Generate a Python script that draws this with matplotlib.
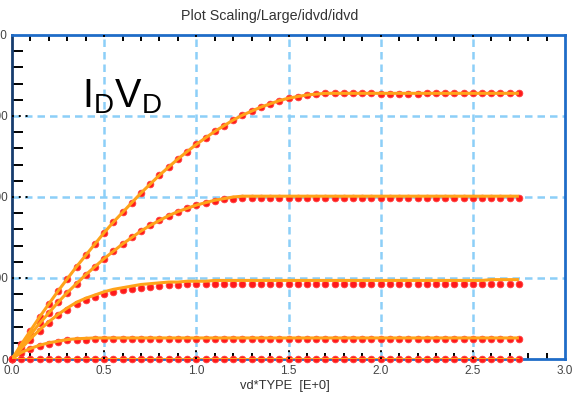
import matplotlib
matplotlib.use("Agg")
import matplotlib.pyplot as plt
import numpy as np

plt.rcParams['font.family'] = ['Liberation Sans', 'DejaVu Sans']

# drain voltage sweep (vd*TYPE)
vd = [0.00, 0.05, 0.10, 0.15, 0.20, 0.25, 0.30, 0.35, 0.40, 0.45,
      0.50, 0.55, 0.60, 0.65, 0.70, 0.75, 0.80, 0.85, 0.90, 0.95,
      1.00, 1.05, 1.10, 1.15, 1.20, 1.25, 1.30, 1.35, 1.40, 1.45,
      1.50, 1.55, 1.60, 1.65, 1.70, 1.75, 1.80, 1.85, 1.90, 1.95,
      2.00, 2.05, 2.10, 2.15, 2.20, 2.25, 2.30, 2.35, 2.40, 2.45,
      2.50, 2.55, 2.60, 2.65, 2.70, 2.75]

# measured drain current, one list per gate bias
meas_1 = [0, 18, 35, 52, 68, 84, 99, 114, 128, 142,
          156, 169, 181, 193, 205, 216, 227, 237, 247, 256,
          265, 273, 281, 288, 295, 301, 306, 311, 315, 319,
          322, 324, 326, 327, 328, 328, 328, 328, 328, 328,
          327, 327, 327, 327, 327, 328, 328, 328, 328, 328,
          328, 328, 328, 328, 328, 328]
meas_2 = [0, 15, 30, 44, 57, 70, 82, 93, 104, 114,
          124, 133, 142, 150, 158, 165, 171, 177, 182, 186,
          190, 193, 195, 197, 198, 199, 199, 199, 199, 199,
          199, 199, 199, 199, 199, 199, 199, 199, 199, 199,
          199, 199, 199, 199, 199, 199, 199, 199, 199, 199,
          199, 199, 199, 199, 199, 199]
meas_3 = [0, 12, 24, 35, 45, 54, 61, 68, 73, 77,
          80, 83, 85, 87, 88, 89, 90, 91, 91, 92,
          92, 92, 93, 93, 93, 93, 93, 93, 93, 93,
          93, 93, 93, 93, 93, 93, 93, 93, 93, 93,
          92, 92, 92, 92, 92, 93, 93, 93, 93, 93,
          93, 93, 93, 93, 93, 93]
meas_4 = [0, 7, 12, 16, 19, 21, 23, 24, 24, 25,
          25, 25, 25, 25, 25, 25, 25, 25, 25, 25,
          25, 25, 25, 25, 25, 25, 25, 25, 25, 25,
          25, 25, 25, 25, 25, 25, 25, 25, 25, 25,
          25, 25, 25, 25, 25, 25, 25, 25, 25, 25,
          25, 25, 25, 25, 25, 25]
meas_5 = [0, 0, 0, 0, 0, 0, 0, 0, 0, 0,
          0, 0, 0, 0, 0, 0, 0, 0, 0, 0,
          0, 0, 0, 0, 0, 0, 0, 0, 0, 0,
          0, 0, 0, 0, 0, 0, 0, 0, 0, 0,
          0, 0, 0, 0, 0, 0, 0, 0, 0, 0,
          0, 0, 0, 0, 0, 0]

# simulated drain current
sim_1 = [0, 18, 35, 52, 68, 84, 99, 114, 128, 142,
         156, 169, 181, 193, 205, 216, 227, 237, 247, 256,
         265, 273, 281, 288, 295, 301, 306, 311, 315, 319,
         322, 324, 326, 327, 328, 328, 328, 328, 328, 328,
         328, 328, 328, 328, 328, 328, 328, 328, 328, 328,
         328, 328, 328, 328, 328, 328]
sim_2 = [0, 15, 30, 44, 57, 70, 82, 93, 104, 114,
         124, 133, 142, 150, 158, 165, 171, 177, 182, 186,
         190, 193, 196, 198, 200, 201, 201, 201, 201, 201,
         201, 201, 201, 201, 201, 201, 201, 201, 201, 201,
         201, 201, 201, 201, 201, 201, 201, 201, 201, 201,
         201, 201, 201, 201, 201, 201]
sim_3 = [0, 13, 25, 36, 46, 55, 63, 70, 75, 79,
         83, 86, 88, 90, 92, 93, 94, 95, 95, 96,
         96, 96, 97, 97, 97, 97, 97, 97, 97, 97,
         97, 97, 97, 97, 97, 97, 97, 97, 97, 97,
         97, 97, 97, 97, 97, 97, 97, 97, 97, 97,
         97, 97, 98, 98, 98, 98]
sim_4 = [0, 8, 13, 17, 20, 22, 24, 25, 25.5, 26,
         26, 26, 26, 26, 26, 26, 26, 26, 26, 26,
         26, 26, 26, 26, 26, 26, 26, 26, 26, 26,
         26, 26, 26, 26, 26, 26, 26, 26, 26, 26,
         26, 26, 26, 26, 26, 26, 26, 26, 26, 26,
         26, 26, 26, 26, 26, 26]
sim_5 = [0, 0, 0, 0, 0, 0, 0, 0, 0, 0,
         0, 0, 0, 0, 0, 0, 0, 0, 0, 0,
         0, 0, 0, 0, 0, 0, 0, 0, 0, 0,
         0, 0, 0, 0, 0, 0, 0, 0, 0, 0,
         0, 0, 0, 0, 0, 0, 0, 0, 0, 0,
         0, 0, 0, 0, 0, 0]

x_ticks = [0.0, 0.5, 1.0, 1.5, 2.0, 2.5, 3.0]
x_ticklabels = ["0.0", "0.5", "1.0", "1.5", "2.0", "2.5", "3.0"]
y_ticks = [0, 100, 200, 300, 400]
y_ticklabels = ["0", "100", "200", "300", "400"]

measured = [meas_1, meas_2, meas_3, meas_4, meas_5]
simulated = [sim_1, sim_2, sim_3, sim_4, sim_5]

W, H = 576, 395
fig = plt.figure(figsize=(W / 100, H / 100), dpi=100)
ax = fig.add_axes([12 / W, 36 / H, 553 / W, 324 / H])

ax.set_xlim(0, 3.0)
ax.set_ylim(0, 400)

grid_c = "#8ccff8"
for gx in x_ticks[1:-1]:
    ax.axvline(gx, color=grid_c, lw=1.8, ls=(0, (3, 2)), zorder=1)
for gy in y_ticks[1:-1]:
    ax.axhline(gy, color=grid_c, lw=1.8, ls=(0, (3, 2)), zorder=1)

for m, s in zip(measured, simulated):
    ax.plot(vd, m, ls="none", marker="o", ms=4.8, mfc="#ff1a1a",
            mec="#ff4040", mew=0.6, zorder=3, clip_on=False)
    ax.plot(vd, s, color="#ffa31a", lw=2.2, zorder=4, solid_capstyle="butt")

# tick marks: minor solid, major dotted
ax.set_xticks(x_ticks)
ax.set_xticklabels(x_ticklabels)
ax.set_yticks(y_ticks)
ax.set_yticklabels(y_ticklabels)
ax.tick_params(axis="both", which="major", length=0,
               labelsize=8.5, labelcolor="#444444")
ax.tick_params(axis="x", pad=4.5)
ax.tick_params(axis="y", pad=3)

minor_x = [v for v in np.arange(0.1, 3.0, 0.1) if abs(v * 2 - round(v * 2)) > 1e-6]
minor_y = [v for v in range(20, 400, 20) if v % 100 != 0]
ax.set_xticks(minor_x, minor=True)
ax.set_yticks(minor_y, minor=True)
ax.tick_params(axis="x", which="minor", direction="in", length=4, width=1.4,
               color="black", top=True, bottom=True)
ax.tick_params(axis="y", which="minor", direction="in", length=8, width=1.4,
               color="black", left=True, right=False)

xt = ax.get_xaxis_transform()
yt = ax.get_yaxis_transform()
for gx in x_ticks[1:-1]:
    ax.plot([gx, gx], [0, 0.035], transform=xt, color="black", lw=1.4,
            ls=(0, (1, 2.5)), zorder=5)
    ax.plot([gx, gx], [1, 1 - 0.02], transform=xt, color="black", lw=1.4,
            ls=(0, (1, 2.5)), zorder=5)
for gy in y_ticks[1:-1]:
    ax.plot([0, 0.037], [gy, gy], transform=yt, color="black", lw=1.4,
            ls=(0, (1, 2.5)), zorder=5)

for side in ["top", "bottom", "right"]:
    ax.spines[side].set_color("#1f6cc8")
    ax.spines[side].set_linewidth(2)
ax.spines["left"].set_color("#163c6e")
ax.spines["left"].set_linewidth(2)

ax.text(0.38, 310, r"$\mathregular{I_DV_D}$", fontsize=28.5,
        ha="left", va="baseline", color="black", zorder=6)

fig.text(270 / W, 1 - 16 / H, "Plot Scaling/Large/idvd/idvd",
         ha="center", va="center", fontsize=10.3, color="#333333")
fig.text(285 / W, 1 - 386 / H, "vd*TYPE  [E+0]",
         ha="center", va="center", fontsize=9.3, color="#333333")

fig.savefig("out.png", dpi=100)
